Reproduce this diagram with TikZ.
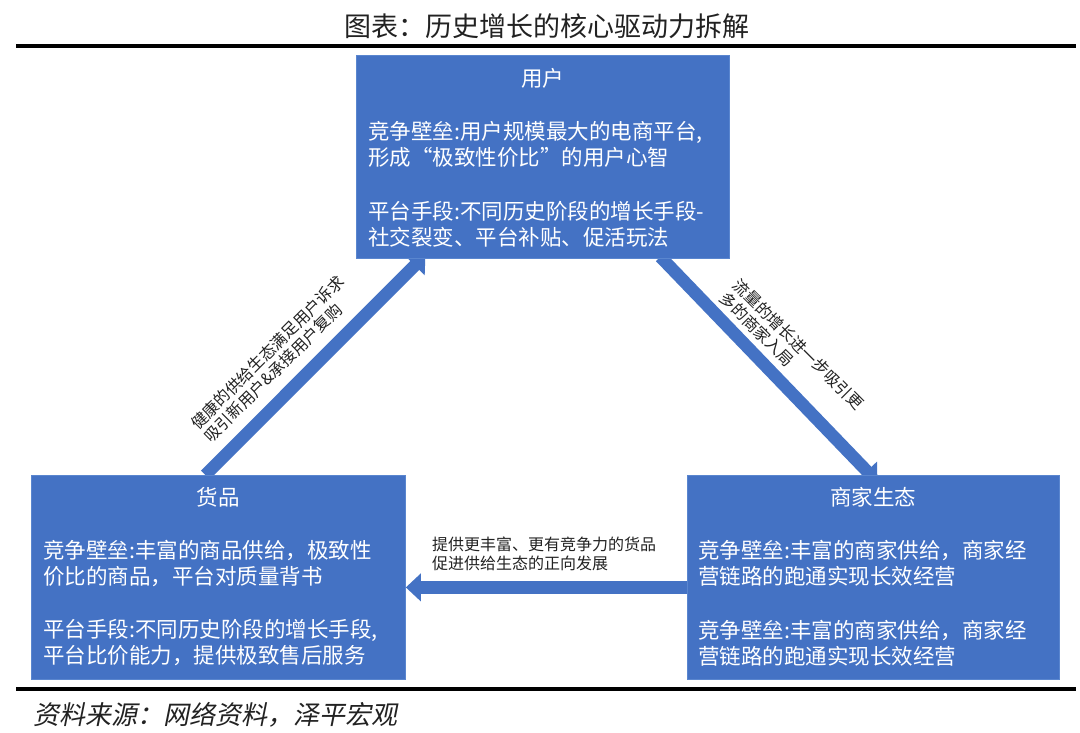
\documentclass[tikz,border=0pt]{standalone}
\usepackage{fontspec}
\setmainfont{Noto Sans CJK SC}
\newfontfamily\slantcjk[FakeSlant=0.2]{Noto Sans CJK SC}
\usetikzlibrary{arrows.meta}
\definecolor{boxblue}{HTML}{4472C4}
\definecolor{boxedge}{HTML}{5A86CF}
\definecolor{inkgray}{HTML}{222222}
\pgfdeclarelayer{bg}
\pgfdeclarelayer{back}
\pgfsetlayers{bg,back,main}
\begin{document}
\begin{tikzpicture}[x=1pt,y=-1pt,
  box/.style={fill=boxblue, draw=boxedge, line width=0.8pt, inner sep=0pt, anchor=north west},
  head/.style={text=white, font=\fontsize{21.5}{26}\selectfont, inner sep=0pt},
  body/.style={text=white, font=\fontsize{21.5}{26}\selectfont, align=left, inner sep=0pt, anchor=north west},
  lab/.style={text=inkgray, font=\fontsize{16}{18.4}\selectfont, align=left, inner sep=0pt},
  flow/.style={draw=boxblue, line width=12.5pt, -{Triangle[width=27pt,length=15pt]}}]
\useasboundingbox (0,0) rectangle (1080,732);
\begin{pgfonlayer}{bg}
\fill[white] (0,0) rectangle (1080,732);
\end{pgfonlayer}

% title and rules
\node[text=inkgray, font=\fontsize{27}{30}\selectfont, inner sep=0pt] (title) at (547,26) {图表：历史增长的核心驱动力拆解};
\draw[line width=3.5pt, black] (16,46) -- (1076,46);
\draw[line width=3.5pt, black] (16,689) -- (1076,689);
\node[text=inkgray, font=\fontsize{26}{30}\selectfont\slantcjk, inner sep=0pt, anchor=west] (src) at (33,715) {资料来源：网络资料，泽平宏观};

% boxes
\node[box, minimum width=373pt, minimum height=203pt] (users) at (356,55) {};
\node[box, minimum width=374pt, minimum height=204pt] (goods) at (31,475) {};
\node[box, minimum width=372pt, minimum height=204pt] (merch) at (687,475) {};

% box texts
\node[head] (usersT) at (542.5,78) {用户};
\node[body] (usersB) at (368,121.5) {竞争壁垒:用户规模最大的电商平台,\\形成“极致性价比”的用户心智\\[28pt]平台手段:不同历史阶段的增长手段-\\社交裂变、平台补贴、促活玩法};

\node[head] (goodsT) at (218,497) {货品};
\node[body] (goodsB) at (43,540) {竞争壁垒:丰富的商品供给，极致性\\价比的商品，平台对质量背书\\[27pt]平台手段:不同历史阶段的增长手段,\\平台比价能力，提供极致售后服务};

\node[head] (merchT) at (873,497) {商家生态};
\node[body] (merchB) at (698,540) {竞争壁垒:丰富的商家供给，商家经\\营链路的跑通实现长效经营\\[28pt]竞争壁垒:丰富的商家供给，商家经\\营链路的跑通实现长效经营};

% connectors
\begin{pgfonlayer}{back}
\draw[flow] ([xshift=-13pt]goods.north) -- ([xshift=-117.5pt,yshift=4pt]users.south);
\draw[flow] ([xshift=117.5pt,yshift=2pt]users.south) -- ([xshift=4pt,yshift=-7pt]merch.north);
\draw[flow] ([yshift=-10pt]merch.west) -- ([yshift=-10pt]goods.east);
\end{pgfonlayer}

% connector labels
\node[lab, rotate=45] (lblL) at (274,359) {健康的供给生态满足用户诉求\\吸引新用户\&承接用户复购};
\node[lab, rotate=-45] (lblR) at (792,351) {流量的增长进一步吸引更\\多的商家入局};
\node[lab, anchor=west] (lblB) at (432,554) {提供更丰富、更有竞争力的货品\\促进供给生态的正向发展};
\end{tikzpicture}
\end{document}
